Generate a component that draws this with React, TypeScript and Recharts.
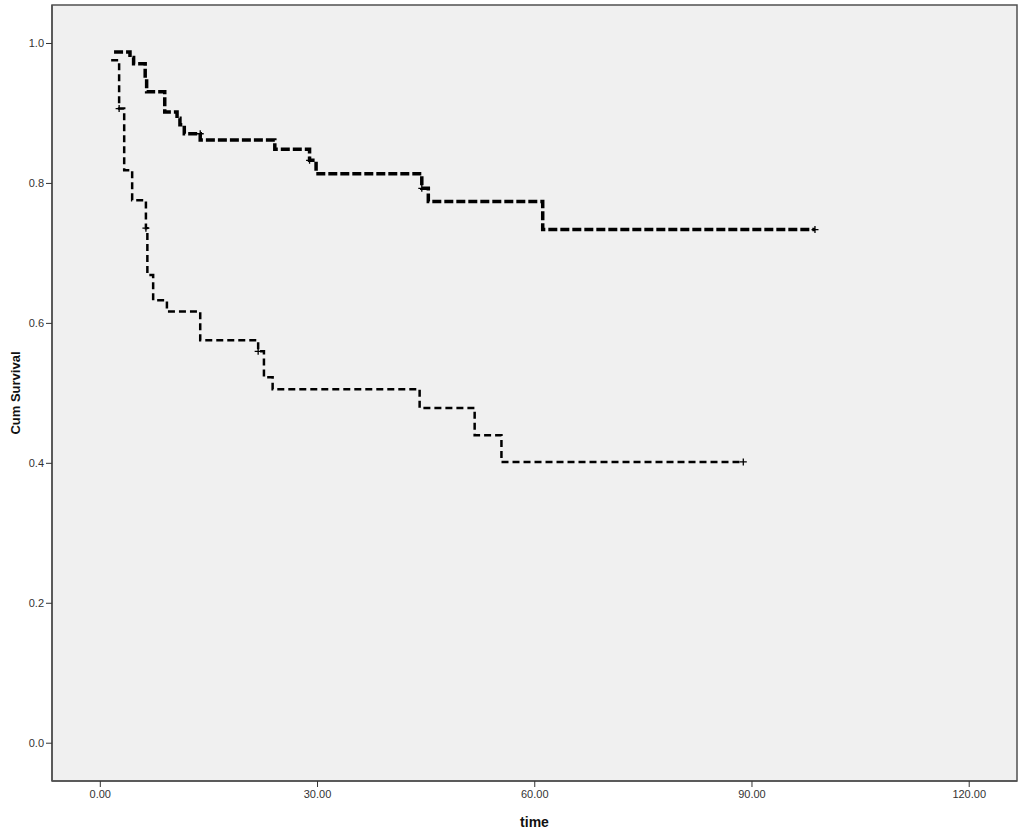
import React from "react"
import {ComposedChart, Line, Scatter, XAxis, YAxis, CartesianGrid, ReferenceArea, Label} from 'recharts';

const timeTicks = [0, 30, 60, 90, 120];
const survivalTicks = [0, 0.2, 0.4, 0.6, 0.8, 1.0];

// group 1 (upper curve)
const group1Times = [1.9, 4.1, 4.6, 6.2, 6.4, 8.9, 10.6, 11.0, 11.6, 13.8, 24.1, 28.9, 29.8, 44.4, 45.3, 61.1, 98.7];
const group1Survival = [0.988, 0.98, 0.971, 0.95, 0.931, 0.902, 0.893, 0.884, 0.871, 0.862, 0.849, 0.833, 0.814, 0.793, 0.774, 0.734, 0.734];
const group1CensorTimes = [13.8, 28.9, 44.4, 98.7];
const group1CensorSurvival = [0.871, 0.833, 0.793, 0.734];

// group 2 (lower curve)
const group2Times = [1.5, 2.6, 3.3, 4.4, 6.3, 6.5, 7.3, 9.2, 13.8, 21.8, 22.6, 23.8, 44.1, 51.7, 55.4, 88.8];
const group2Survival = [0.976, 0.907, 0.819, 0.776, 0.736, 0.669, 0.633, 0.617, 0.576, 0.56, 0.523, 0.506, 0.479, 0.44, 0.402, 0.402];
const group2CensorTimes = [2.6, 6.3, 21.8, 88.8];
const group2CensorSurvival = [0.907, 0.736, 0.56, 0.402];

const toPoints = (ts: number[], ss: number[]) => ts.map((t, i) => ({t, s: ss[i]}));

const group1 = toPoints(group1Times, group1Survival);
const group2 = toPoints(group2Times, group2Survival);
const censor1 = toPoints(group1CensorTimes, group1CensorSurvival);
const censor2 = toPoints(group2CensorTimes, group2CensorSurvival);

const X_DOMAIN = [-6.67, 126.6];
const Y_DOMAIN = [-0.054, 1.055];
const FONT = '"Liberation Sans", Arial, sans-serif';

const Plus = (props: any) => {
    const {cx, cy} = props;
    if (cx == null || cy == null) return null;
    return (
        <path d={`M${cx - 3.5},${cy}H${cx + 3.5}M${cx},${cy - 3.5}V${cy + 3.5}`} stroke="#000" strokeWidth={1.3} fill="none" />
    );
};

const YTitle = (props: any) => {
    const {viewBox} = props;
    const x = 15;
    const y = viewBox.y + viewBox.height / 2;
    return (
        <text x={x} y={y} transform={`rotate(-90, ${x}, ${y})`} textAnchor="middle" dominantBaseline="central"
              fontFamily={FONT} fontWeight="bold" fontSize={13} fill="#111">Cum Survival</text>
    );
};

const XTitle = (props: any) => {
    const {viewBox} = props;
    const x = viewBox.x + viewBox.width / 2;
    return (
        <text x={x} y={822} textAnchor="middle" dominantBaseline="central"
              fontFamily={FONT} fontWeight="bold" fontSize={14} fill="#111">time</text>
    );
};

const App = () => {
    const tick = {fontFamily: FONT, fontSize: 11, fill: '#333'};
    return (
        <div style={{position: 'absolute', left: 0, top: 0}}>
            <ComposedChart width={1024} height={834} margin={{top: 5, right: 7, bottom: 0, left: 0}}>
                <CartesianGrid fill="#f0f0f0" horizontal={false} vertical={false} />
                <XAxis type="number" dataKey="t" domain={X_DOMAIN} allowDataOverflow ticks={timeTicks}
                       tickFormatter={(v: number) => v.toFixed(2)} height={53} tick={tick}
                       tickSize={6} tickMargin={3} stroke="#505050" axisLine={{stroke: '#505050', strokeWidth: 1.5}}
                       tickLine={{stroke: '#333'}}>
                    <Label content={XTitle} />
                </XAxis>
                <YAxis type="number" dataKey="s" domain={Y_DOMAIN} allowDataOverflow ticks={survivalTicks}
                       tickFormatter={(v: number) => v.toFixed(1)} width={52} tick={tick}
                       tickSize={6} tickMargin={2} axisLine={{stroke: '#505050', strokeWidth: 1.5}}
                       tickLine={{stroke: '#333'}}>
                    <Label content={YTitle} />
                </YAxis>
                <ReferenceArea x1={X_DOMAIN[0]} x2={X_DOMAIN[1]} y1={Y_DOMAIN[0]} y2={Y_DOMAIN[1]}
                               fill="none" fillOpacity={0} stroke="#505050" strokeWidth={1.5} />
                <Line data={group1} dataKey="s" type="stepAfter" stroke="#000" strokeWidth={3.5}
                      strokeDasharray="9 3" dot={false} isAnimationActive={false} />
                <Line data={group2} dataKey="s" type="stepAfter" stroke="#000" strokeWidth={2.5}
                      strokeDasharray="7 4" dot={false} isAnimationActive={false} />
                <Scatter data={censor1} dataKey="s" shape={Plus} isAnimationActive={false} />
                <Scatter data={censor2} dataKey="s" shape={Plus} isAnimationActive={false} />
            </ComposedChart>
        </div>
    )
};

export default App;
